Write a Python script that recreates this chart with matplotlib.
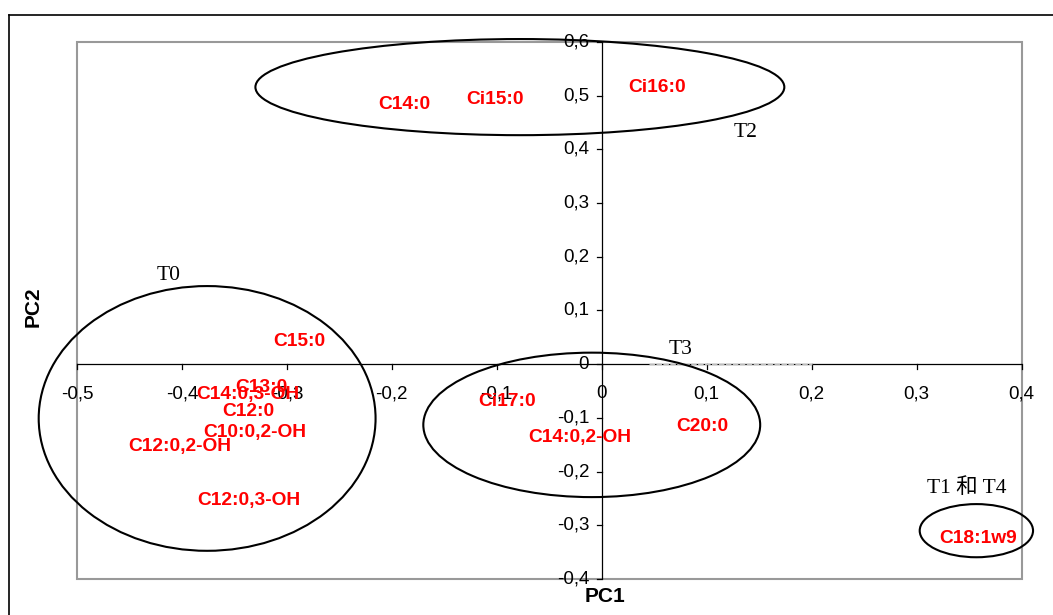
import matplotlib.pyplot as plt
from matplotlib.patches import Ellipse
from matplotlib.lines import Line2D

# PCA loadings (PC1, PC2) of the fatty acids
names = ['C14:0', 'Ci15:0', 'Ci16:0', 'C15:0', 'C13:0', 'C14:0,3-OH',
         'C12:0', 'C10:0,2-OH', 'C12:0,2-OH', 'C12:0,3-OH', 'Ci17:0',
         'C14:0,2-OH', 'C20:0', 'C18:1w9']
pc1 = [-0.188, -0.102, 0.053, -0.288, -0.324, -0.337,
       -0.337, -0.331, -0.402, -0.336, -0.090,
       -0.021, 0.096, 0.359]
pc2 = [0.484, 0.493, 0.516, 0.042, -0.044, -0.057,
       -0.088, -0.128, -0.154, -0.253, -0.070,
       -0.137, -0.116, -0.325]

# groups: label, label pos, ellipse centre, width, height
groups = ['T0', 'T2', 'T3', 'T1 和 T4']
group_lx = [-0.413, 0.137, 0.075, 0.348]
group_ly = [0.165, 0.432, 0.027, -0.230]
ell_cx = [-0.376, -0.078, -0.0095, 0.357]
ell_cy = [-0.101, 0.516, -0.113, -0.310]
ell_w = [0.321, 0.504, 0.321, 0.108]
ell_h = [0.493, 0.179, 0.269, 0.099]

xticks = [-0.5, -0.4, -0.3, -0.2, -0.1, 0, 0.1, 0.2, 0.3, 0.4]
yticks = [-0.4, -0.3, -0.2, -0.1, 0, 0.1, 0.2, 0.3, 0.4, 0.5, 0.6]

plt.rcParams['font.family'] = ['Liberation Sans', 'DejaVu Sans']

fig = plt.figure(figsize=(10.53, 6.15), dpi=100)
ax = fig.add_axes([77 / 1053, 1 - 579 / 615, (1021.5 - 77) / 1053, (579 - 42) / 615])
ax.set_xlim(-0.5, 0.4)
ax.set_ylim(-0.4, 0.6)

# outer chart frame
fig.add_artist(Line2D([9 / 1053, 1], [1 - 15 / 615, 1 - 15 / 615], color='black', lw=1.2))
fig.add_artist(Line2D([9 / 1053, 9 / 1053], [0, 1 - 15 / 615], color='black', lw=1.2))

# plot area border (gray) and axes through the origin
for s in ax.spines.values():
    s.set_visible(False)
ax.add_patch(plt.Rectangle((-0.5, -0.4), 0.9, 1.0, fill=False, ec='#999999', lw=1.5,
                           clip_on=False, zorder=1))
ax.axhline(0, color='black', lw=0.9, zorder=2)
ax.axvline(0, color='black', lw=0.9, zorder=2)
ax.plot([0.045, 0.2], [0, 0], color='#bbbbbb', lw=1.0, ls=(0, (4, 1)), zorder=2.5)

ax.set_xticks([])
ax.set_yticks([])
for x in xticks:
    ax.plot([x, x], [0, -0.0095], color='black', lw=0.9, clip_on=False)
    ax.text(x, -0.055, f'{x:g}'.replace('.', ','), ha='center', va='center', fontsize=13.5)
for y in yticks:
    ax.plot([0, -0.0048], [y, y], color='black', lw=0.9, clip_on=False)
    ax.text(-0.012, y, f'{y:g}'.replace('.', ','), ha='right', va='center', fontsize=13.5)

for n, x, y in zip(names, pc1, pc2):
    ax.text(x, y, n, color='red', fontweight='bold', fontsize=13.8, ha='center', va='center',
            zorder=4)

for g, lx, ly, cx, cy, w, h in zip(groups, group_lx, group_ly, ell_cx, ell_cy, ell_w, ell_h):
    ax.add_patch(Ellipse((cx, cy), w, h, fill=False, ec='black', lw=1.5, clip_on=False,
                         zorder=3))
    ax.text(lx, ly, g, ha='center', va='center', fontsize=15.5,
            family=['Liberation Serif', 'Noto Sans CJK SC'])

fig.text(605 / 1053, 1 - 597 / 615, 'PC1', ha='center', va='center', fontsize=15,
         fontweight='bold')
fig.text(33 / 1053, 1 - 307 / 615, 'PC2', ha='center', va='center', fontsize=15,
         fontweight='bold', rotation=90)

fig.savefig('out.png', dpi=100)
